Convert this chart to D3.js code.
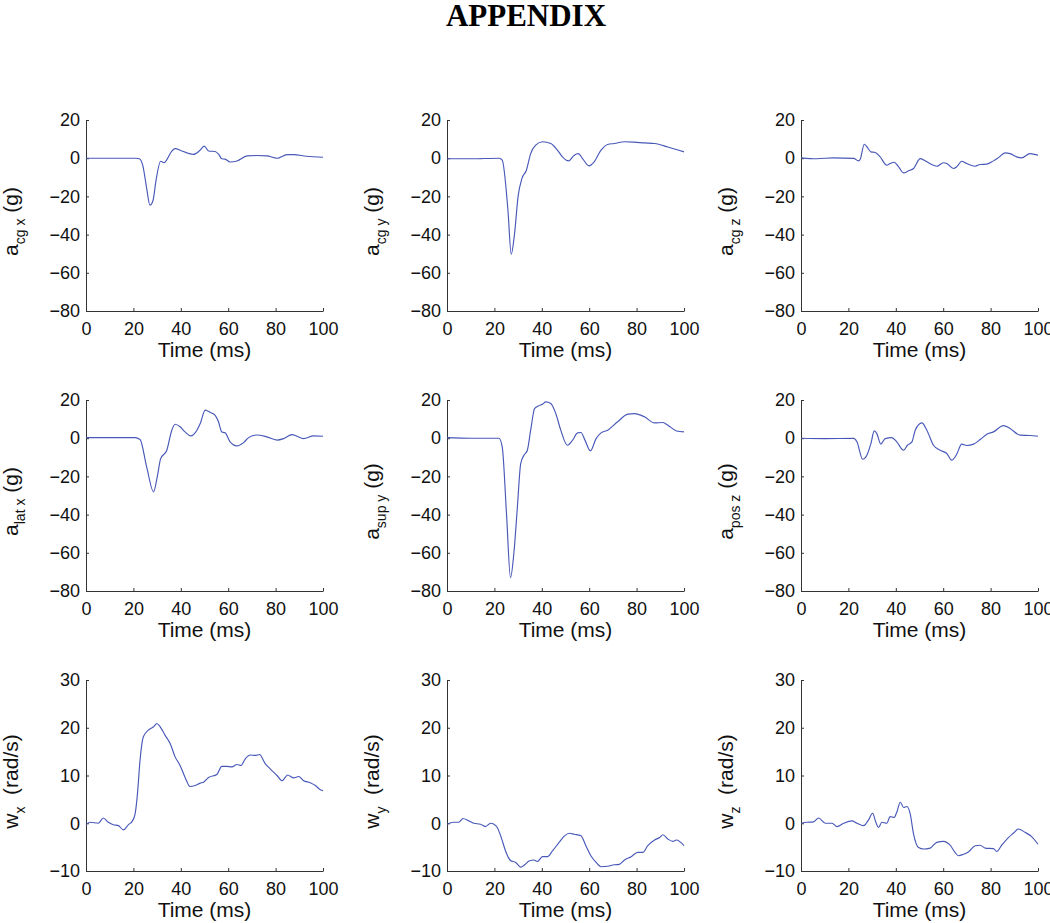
<!DOCTYPE html>
<html>
<head>
<meta charset="utf-8">
<script src="https://cdn.jsdelivr.net/npm/d3@7"></script>
<style>
    body { margin: 0; background: #fff; }
    svg { display: block; }
    .tick text { font-family: "Liberation Sans", Arial, sans-serif; font-size: 18px; fill: #111; }
    .domain, .tick line { stroke: #333; }
    .trace { fill: none; stroke: #4858b8; stroke-width: 1.15; }
    .xlab, .ylab { font-family: "Liberation Sans", Arial, sans-serif; font-size: 21px; fill: #111; }
</style>
</head>
<body>
<svg id="fig" width="1050" height="923"></svg>
<script>
// tick values
let xTicks = [0, 20, 40, 60, 80, 100];
let accelTicks = [-80, -60, -40, -20, 0, 20];
let rateTicks = [-10, 0, 10, 20, 30];

// series: [time ms, value]
let acgX = [[0,0],[10,0],[21,0],[22.5,-0.3],[24,-4],[25.5,-15],[27,-24.6],[28.3,-22],[29.5,-12],[31.5,-1.6],[33,-2.3],[34,-1],
    [35.8,3],[37.6,5],[40.4,3.8],[43,2.6],[45.4,2],[48,4],[49.9,6.3],[51.7,3.8],[54.5,3.5],[56,2],[57.3,-0.3],[58.7,-0.5],
    [60.8,-2],[63.7,-1.5],[68,1.2],[72,1.4],[76.3,1.2],[80.6,0],[84.8,1.9],[87.6,1.9],[93,1],[100,0.5]];
let acgY = [[0,-0.3],[10,-0.3],[22,0],[23.3,-1],[25.7,-27],[27.1,-50.3],[28.5,-39.5],[30,-20],[31.6,-10.7],[33.5,-6.3],
    [35.3,2.4],[37.4,6.8],[40.3,8.6],[43.8,7.7],[46.6,4.2],[48.7,0.7],[51.3,-1.4],[53.7,1.6],[55.4,2.4],[57.2,-0.2],
    [59.9,-4],[62.1,-1.9],[65,4.2],[67.8,7.2],[70.6,7.7],[74.9,8.6],[79,8.4],[83.3,8],[87.6,7.7],[93.2,5.9],[100,3.3]];
let acgZ = [[0,0.2],[6.7,-0.3],[13.8,0.2],[22.2,-0.1],[24.3,-1.4],[25,-0.5],[26.7,7.3],[27.8,6],[29.5,3.3],[31.3,3],
    [33.4,0.7],[36.2,-3.7],[37.6,-2.8],[39.3,-2.1],[41.2,-4.5],[43.3,-7.7],[45.4,-6.6],[47.5,-5.4],[50.3,-0.2],[53.1,-1.9],
    [55.9,-3.7],[57.3,-4.2],[60.1,-2.4],[61.5,-2.8],[64.3,-5.4],[65.7,-4.5],[67.8,-1.6],[69.9,-2.8],[73.5,-4.2],[75.6,-3.3],
    [78.4,-3.1],[81.2,-1.4],[83.3,0.3],[86.1,2.8],[88.2,2.4],[91,0.7],[93.1,0.2],[96.6,2.4],[100,1.6]];
let latX = [[0,0.3],[10,0.3],[20.7,0.3],[22.8,-0.7],[25.6,-15],[28.5,-28.1],[30.1,-20],[31.5,-10.7],[34.1,-6.3],[36.2,4.2],
    [37.6,7.3],[39.7,6],[41.8,3.3],[44.2,1.2],[46.8,4.2],[48.2,7.7],[50.3,14.7],[52.4,13.5],[54.5,12],[55.9,8.6],[57.3,3.3],
    [58.7,2.8],[60.8,-1.9],[63.7,-4],[66.5,-2.3],[68.6,0.3],[72.1,1.7],[76.3,0.7],[80.6,-1],[83.4,-0.2],[86.9,1.9],[89,1],
    [91.8,-0.2],[96,1.2],[100,1]];
let supY = [[0,0.3],[10,0],[21.9,0],[23.3,-4.5],[25.1,-39.5],[26.8,-73],[28.2,-60.5],[29.7,-36],[31.1,-13.3],[32.5,-8.9],
    [33.9,-6.3],[35.3,4.2],[37,15.6],[38.8,17],[40.3,17.8],[41.7,19],[43.8,18.2],[45.9,12.9],[48,4.2],[50.8,-3.7],[53,-1],
    [55.1,2.8],[56.5,3],[58.2,-1],[60.5,-6.6],[62.9,-0.2],[65,2.8],[67.8,4.2],[72,8.6],[76.3,12.6],[79.1,12.9],[83.3,11.2],
    [87.6,8],[91.1,8.2],[93.2,6.8],[96.8,3.8],[100,3.3]];
let posZ = [[0,0],[10,-0.2],[22.2,-0.1],[23.6,-1.9],[26,-11],[27.8,-8.9],[29.5,-2.8],[30.9,3.8],[32,2.4],[33.7,-3.1],
    [35.5,-0.2],[38.3,0.3],[40.4,-1.9],[43.3,-6.3],[44.9,-3.7],[46.8,-1.9],[48.2,4.2],[51,8],[53.1,4.2],[55.9,-3.7],
    [58.7,-6.3],[61.5,-8],[63.6,-11.5],[65.7,-8.4],[67.8,-3.1],[69.9,-3.8],[72.8,-3.1],[75.6,-0.7],[78.4,2.1],[81.2,3.3],
    [85.4,6.6],[88.2,5.1],[92.4,1.6],[96.6,1.4],[100,1]];
let wX = [[0,-0.3],[1.7,0.2],[5.2,0],[7.3,1.1],[9.4,0.2],[11.5,-0.3],[13.7,-0.5],[15.8,-1.4],[17.9,-0.3],[19.6,0.5],
    [20.7,1.9],[21.7,6.1],[22.8,13.2],[24.2,18.1],[26.3,19.5],[28.5,20.2],[29.9,20.9],[31.3,20.2],[33.4,18.4],[35.5,16.7],
    [37.6,13.9],[39.7,12.1],[41.8,9.6],[43.9,7.7],[46.1,7.9],[48.2,8.4],[49.6,8.6],[51.7,9.6],[55.2,10.2],[57.3,11.9],
    [59.4,11.9],[61.5,11.8],[63.7,12.3],[65.4,12.1],[67.2,13.5],[69.3,14.3],[71.4,14.2],[73.2,14.4],[75.6,12.5],[77.7,11.4],
    [80.6,10],[82.7,8.9],[85.1,10.1],[87.6,9.5],[89.7,9.8],[91.8,8.9],[94.6,8.5],[96.8,7.9],[98.9,7],[100,6.8]];
let wY = [[0,-0.2],[2.8,0.2],[4.9,0.2],[6.8,1],[9.2,0.5],[11.3,0],[14.1,-0.2],[16.2,-0.7],[18.4,0],[19.8,-0.2],[21.2,-0.9],
    [22.9,-3],[24.7,-5.8],[26.8,-7.8],[29,-8.2],[31.1,-9.2],[32.8,-8.7],[34.6,-7.9],[36.7,-7.7],[38.1,-8],[40.3,-7],
    [42.4,-7],[44.5,-5.8],[47.3,-4],[49.7,-2.6],[51.6,-2.1],[53.7,-2.3],[56.5,-2.6],[58.6,-4.7],[60.7,-6.8],[62.9,-8.2],
    [65,-9.1],[67.8,-9],[70.6,-8.7],[72.7,-8.6],[74.9,-7.7],[77.7,-7],[80.5,-6.1],[82.6,-6.1],[84.7,-4.7],[87.6,-3.5],
    [89.7,-3],[91.1,-2.4],[93.2,-3.3],[95.3,-3.8],[96.8,-3.5],[100,-4.7]];
let wZ = [[0,0],[2.5,0.2],[5.3,0.3],[7.4,1.1],[10.3,0],[13.1,0],[15.2,-0.7],[18,0],[21.5,0.5],[23.6,0],[26.4,-0.5],
    [28.5,0.7],[30.2,2.1],[31.6,0.2],[32.7,-0.9],[34.1,0.2],[36.2,0],[37.6,1.4],[39.3,1.2],[40.4,2.3],[41.9,4.4],[43.3,3.3],
    [44.7,3.5],[46.1,1.9],[47.5,-2.3],[49.6,-5.1],[51.7,-5.4],[54.5,-5.2],[57.3,-4],[60.1,-3.8],[62.9,-4.6],[65,-6.1],
    [66.4,-6.8],[68.5,-6.5],[70.6,-6],[73.5,-4.7],[75.6,-4.6],[77.7,-5.2],[81.2,-5.3],[82.6,-5.9],[84.7,-4.6],[87.5,-3],
    [89.6,-2.1],[91.7,-1.2],[94.5,-1.9],[97.3,-2.8],[100,-4.4]];

// panel labels: main symbol, subscript, unit
let labelMain = ["a", "a", "a", "a", "a", "a", "w", "w", "w"];
let labelSub = ["cg x", "cg y", "cg z", "lat x", "sup y", "pos z", "x", "y", "z"];
let labelUnit = ["(g)", "(g)", "(g)", "(g)", "(g)", "(g)", "(rad/s)", "(rad/s)", "(rad/s)"];
let series = [acgX, acgY, acgZ, latX, supY, posZ, wX, wY, wZ];

const colLeft = [86, 447, 801];
const rowTop = [120, 400, 680];
const plotW = 237, plotH = 191;

let svg = d3.select("#fig");

svg.append("rect").attr("width", 1050).attr("height", 923).attr("fill", "#fff");

svg.append("text")
    .attr("x", 526)
    .attr("y", 26)
    .attr("text-anchor", "middle")
    .style("font-family", "'Liberation Serif', 'Times New Roman', serif")
    .style("font-weight", "bold")
    .style("font-size", "31px")
    .text("APPENDIX");

series.forEach(function (data, i) {
    let row = Math.floor(i / 3), col = i % 3;
    let isRate = row === 2;

    let x = d3.scaleLinear().domain([0, 100]).range([0, plotW]);
    let y = d3.scaleLinear().domain(isRate ? [-10, 30] : [-80, 20]).range([plotH, 0]);

    let g = svg.append("g")
        .attr("transform", "translate(" + colLeft[col] + "," + rowTop[row] + ")");

    g.append("g")
        .attr("transform", "translate(0," + plotH + ")")
        .call(d3.axisBottom(x).tickValues(xTicks).tickSizeInner(-3).tickSizeOuter(0).tickPadding(11));

    g.append("g")
        .call(d3.axisLeft(y).tickValues(isRate ? rateTicks : accelTicks).tickSizeInner(-3).tickSizeOuter(0).tickPadding(6));

    let line = d3.line()
        .x(function (d) { return x(d[0]); })
        .y(function (d) { return y(d[1]); })
        .curve(d3.curveMonotoneX);

    g.append("path")
        .datum(data)
        .attr("class", "trace")
        .attr("d", line);

    g.append("text")
        .attr("class", "xlab")
        .attr("x", plotW / 2)
        .attr("y", plotH + 46)
        .attr("text-anchor", "middle")
        .text("Time (ms)");

    // rotated y label with subscript
    let yl = g.append("text")
        .attr("class", "ylab")
        .attr("text-anchor", "middle")
        .attr("transform", "translate(-68," + (plotH / 2 + 6) + ") rotate(-90)");
    yl.append("tspan").text(labelMain[i]);
    yl.append("tspan").attr("dy", 7).style("font-size", "14px").text(labelSub[i]);
    yl.append("tspan").attr("dy", -7).text((isRate ? "\u00a0\u00a0" : " ") + labelUnit[i]);
});
</script>
</body>
</html>
